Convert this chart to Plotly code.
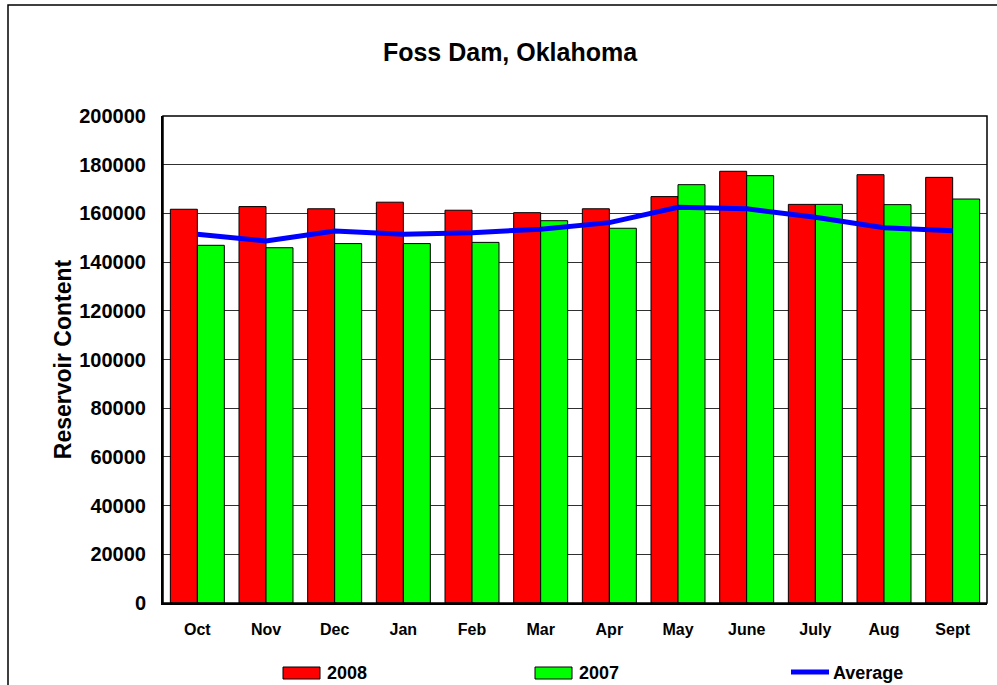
import plotly.graph_objects as go

months = ["Oct", "Nov", "Dec", "Jan", "Feb", "Mar", "Apr", "May", "June", "July", "Aug", "Sept"]
values_2008 = [161700, 162800, 161900, 164600, 161300, 160300, 161900, 166900, 177300, 163700, 175900, 174800]
values_2007 = [146900, 145900, 147600, 147600, 148100, 157000, 153900, 171800, 175500, 163700, 163600, 165900]
average = [151400, 148700, 152800, 151400, 152100, 153500, 156200, 162500, 161900, 158400, 154100, 152900]
y_ticks = [0, 20000, 40000, 60000, 80000, 100000, 120000, 140000, 160000, 180000, 200000]
series_names = ["2008", "2007", "Average"]
series_colors = ["#FF0000", "#00FF00", "#0000FF"]

FONT = "Liberation Sans, Arial, sans-serif"

fig = go.Figure()
fig.add_trace(go.Bar(name=series_names[0], x=months, y=values_2008, showlegend=False,
                     marker=dict(color=series_colors[0], line=dict(color="#000000", width=1))))
fig.add_trace(go.Bar(name=series_names[1], x=months, y=values_2007, showlegend=False,
                     marker=dict(color=series_colors[1], line=dict(color="#000000", width=1))))
fig.add_trace(go.Scatter(name=series_names[2], x=months, y=average, mode="lines", showlegend=False,
                         line=dict(color=series_colors[2], width=5)))

W, H = 997, 685
L, R, T, B = 163, 10, 116, 82
pw, ph = W - L - R, H - T - B

def px_x(p):
    return (p - L) / pw

def px_y(p):
    return (H - B - p) / ph

shapes = [
    dict(type="rect", xref="paper", yref="paper", x0=0, x1=1, y0=0, y1=1,
         line=dict(color="black", width=1.5), fillcolor="rgba(0,0,0,0)", layer="above"),
    dict(type="rect", xref="paper", yref="paper", x0=px_x(8), x1=px_x(1030),
         y0=px_y(710), y1=px_y(5),
         line=dict(color="black", width=1.5), fillcolor="rgba(0,0,0,0)"),
]
annotations = []

# manual legend (swatch geometry in pixels)
legend_x = [283, 535, 791]
legend_text_x = [325, 577, 831]
legend_cy = 673
for i, name in enumerate(series_names):
    if i < 2:
        shapes.append(dict(type="rect", xref="paper", yref="paper",
                           x0=px_x(legend_x[i]), x1=px_x(legend_x[i] + 37),
                           y0=px_y(legend_cy + 6), y1=px_y(legend_cy - 6),
                           fillcolor=series_colors[i], line=dict(color="black", width=1)))
    else:
        shapes.append(dict(type="line", xref="paper", yref="paper",
                           x0=px_x(legend_x[i]), x1=px_x(legend_x[i] + 38),
                           y0=px_y(legend_cy - 1), y1=px_y(legend_cy - 1),
                           line=dict(color=series_colors[i], width=5)))
    annotations.append(dict(text=name, xref="paper", yref="paper",
                            x=px_x(legend_text_x[i]), y=px_y(legend_cy),
                            xanchor="left", yanchor="middle", showarrow=False,
                            font=dict(family=FONT, size=18, weight="bold", color="black")))

fig.update_layout(
    width=W, height=H,
    margin=dict(l=L, r=R, t=T, b=B, pad=0, autoexpand=False),
    paper_bgcolor="white", plot_bgcolor="white",
    barmode="group", bargap=0.214, bargroupgap=0,
    showlegend=False,
    font=dict(family=FONT, color="black"),
    title=dict(text="Foss Dam, Oklahoma", x=510 / W, xanchor="center",
               y=1 - 52 / H, yanchor="middle", yref="container",
               font=dict(family=FONT, size=25, weight="bold", color="black")),
    xaxis=dict(showgrid=False, showline=True, linecolor="black", linewidth=1.5,
               ticks="", tickfont=dict(family=FONT, size=16, weight="bold"),
               ticklabelstandoff=11, automargin=False),
    yaxis=dict(range=[0, 200000], tickvals=y_ticks, tickformat="d",
               showgrid=True, gridcolor="#303030", gridwidth=1,
               showline=True, linecolor="black", linewidth=2, ticks="",
               tickfont=dict(family=FONT, size=20, weight="bold"),
               ticklabelstandoff=11, zeroline=False, automargin=False,
               title=dict(text="Reservoir Content", standoff=1,
                          font=dict(family=FONT, size=23, weight="bold"))),
    shapes=shapes,
    annotations=annotations,
)

fig.write_html("out.html", config={"displayModeBar": False},
               post_script="document.body.style.margin='0';document.body.style.overflow='hidden';")
